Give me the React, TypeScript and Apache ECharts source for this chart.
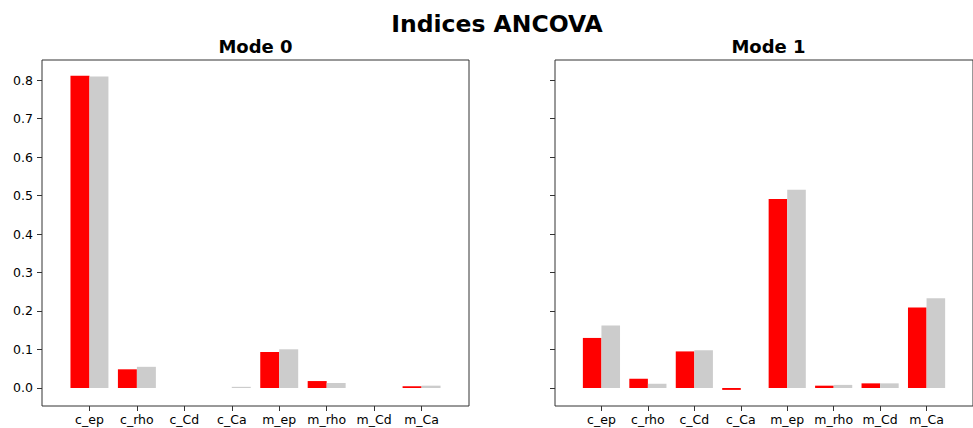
import React, { useEffect, useRef } from "react";
import * as echarts from "echarts";

const categories = ["c_ep", "c_rho", "c_Cd", "c_Ca", "m_ep", "m_rho", "m_Cd", "m_Ca"];
const mode0Red = [0.811, 0.0485, 0, 0, 0.0935, 0.018, 0, 0.0045];
const mode0Gray = [0.809, 0.055, 0, 0.003, 0.1005, 0.013, 0, 0.006];
const mode1Red = [0.13, 0.024, 0.095, -0.005, 0.491, 0.006, 0.012, 0.209];
const mode1Gray = [0.162, 0.011, 0.098, 0, 0.515, 0.008, 0.012, 0.233];
const yTicks = [0, 0.1, 0.2, 0.3, 0.4, 0.5, 0.6, 0.7, 0.8];
const titleText = "Indices ANCOVA";
const subTitles = ["Mode 0", "Mode 1"];

const FONT = "DejaVu Sans";
const SPINE = "#333";

export default function App() {
  const ref = useRef<HTMLDivElement>(null);
  useEffect(() => {
    if (!ref.current) return;
    const chart = echarts.init(ref.current, undefined, { renderer: "svg" });
    const padded = ["", ...categories, ""];
    // zero-height bars draw nothing; pass them as empty
    const pad = (arr: number[]) => ["-", ...arr.map((v) => (v === 0 ? "-" : v)), "-"];
    const isInner = (i: number) => i > 0 && i < padded.length - 1;

    const grids = [
      { left: 42, top: 60, width: 427, height: 346 },
      { left: 555, top: 60, width: 427, height: 346 },
    ].map((g) => ({ ...g, show: true, borderColor: SPINE, borderWidth: 1, backgroundColor: "transparent", containLabel: false }));

    const xAxes = [0, 1].map((gi) => ({
      type: "category",
      gridIndex: gi,
      position: "bottom",
      data: padded,
      boundaryGap: false,
      axisLine: { show: false, onZero: false },
      axisTick: { show: true, length: 5, lineStyle: { color: SPINE }, interval: (i: number) => isInner(i) },
      axisLabel: {
        show: true,
        interval: (i: number) => isInner(i),
        color: "#000",
        fontSize: 12.5,
        fontFamily: FONT,
        margin: 7,
      },
      splitLine: { show: false },
    }));

    const yAxes = [0, 1].map((gi) => ({
      type: "value",
      gridIndex: gi,
      min: -0.0468,
      max: 0.852,
      axisLine: { show: false, onZero: false },
      axisTick: { show: true, length: 5, lineStyle: { color: SPINE }, customValues: yTicks },
      axisLabel: {
        show: gi === 0,
        customValues: yTicks,
        formatter: (v: number) => v.toFixed(1),
        color: "#000",
        fontSize: 12.5,
        fontFamily: FONT,
        margin: 9,
      },
      splitLine: { show: false },
    }));

    const mk = (data: number[], color: string, gi: number) => ({
      type: "bar",
      xAxisIndex: gi,
      yAxisIndex: gi,
      data: pad(data),
      barWidth: "40%",
      barGap: "0%",
      itemStyle: { color, borderWidth: 0 },
    });

    chart.setOption({
      animation: false,
      backgroundColor: "#fff",
      grid: grids,
      xAxis: xAxes,
      yAxis: yAxes,
      series: [
        mk(mode0Red, "#ff0000", 0),
        mk(mode0Gray, "#cccccc", 0),
        mk(mode1Red, "#ff0000", 1),
        mk(mode1Gray, "#cccccc", 1),
      ],
      graphic: [
        {
          type: "text",
          x: 497,
          y: 24,
          style: { text: titleText, fontSize: 23.5, fontWeight: "bold", fontFamily: FONT, fill: "#000", textAlign: "center", textVerticalAlign: "middle" },
        },
        {
          type: "text",
          x: 255.5,
          y: 46,
          style: { text: subTitles[0], fontSize: 18, fontWeight: "bold", fontFamily: FONT, fill: "#000", textAlign: "center", textVerticalAlign: "middle" },
        },
        {
          type: "text",
          x: 768.5,
          y: 46,
          style: { text: subTitles[1], fontSize: 18, fontWeight: "bold", fontFamily: FONT, fill: "#000", textAlign: "center", textVerticalAlign: "middle" },
        },
      ],
    });
    return () => chart.dispose();
  }, []);
  return <div ref={ref} style={{ position: "fixed", left: 0, top: 0, width: 973, height: 428 }} />;
}
